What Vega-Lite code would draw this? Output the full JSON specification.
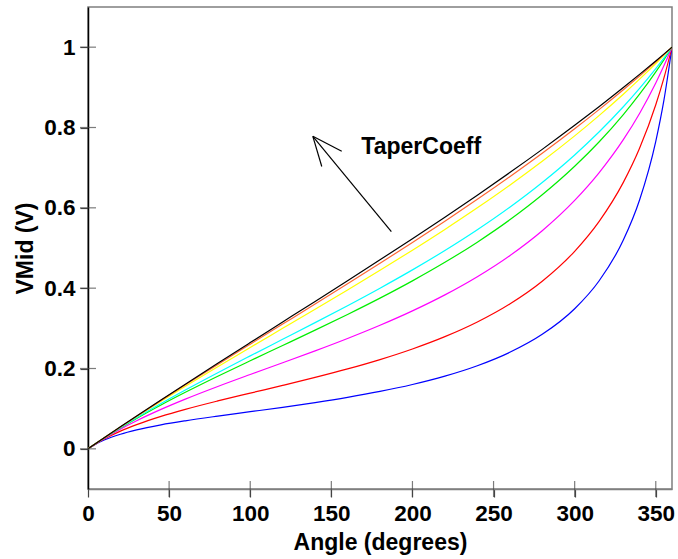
{
  "$schema": "https://vega.github.io/schema/vega-lite/v6.json",
  "width": 584,
  "height": 482,
  "autosize": "none",
  "padding": {"left": 88, "top": 7, "right": 6, "bottom": 70},
  "background": "white",
  "config": {
    "view": {"stroke": "#7f7f7f", "strokeWidth": 1.5},
    "font": "Liberation Sans",
    "axis": {
      "labelFont": "Liberation Sans",
      "labelFontWeight": "bold",
      "labelFontSize": 22.5,
      "labelColor": "#000000",
      "labelFlush": false,
      "labelBound": false,
      "titleFont": "Liberation Sans",
      "titleFontWeight": "bold",
      "titleFontSize": 23,
      "titleColor": "#000000",
      "grid": false,
      "tickColor": "#444444",
      "tickWidth": 1.2,
      "tickSize": 8
    }
  },
  "datasets": {
    "curves": [
      {"a": 0, "k025": 0, "k033": 0, "k05": 0, "k1": 0, "k133": 0, "k25": 0, "k5": 0, "k10": 0},
      {"a": 5, "k025": 0.013842, "k033": 0.013827, "k05": 0.013795, "k1": 0.013701, "k133": 0.01364, "k25": 0.013429, "k5": 0.012999, "k10": 0.012216},
      {"a": 10, "k025": 0.027592, "k033": 0.027533, "k05": 0.027408, "k1": 0.027048, "k133": 0.026815, "k25": 0.026021, "k5": 0.024473, "k10": 0.021872},
      {"a": 20, "k025": 0.054837, "k033": 0.054611, "k05": 0.054136, "k1": 0.052786, "k133": 0.051932, "k25": 0.049114, "k5": 0.04401, "k10": 0.036437},
      {"a": 30, "k025": 0.081772, "k033": 0.081283, "k05": 0.080268, "k1": 0.077419, "k133": 0.075647, "k25": 0.069971, "k5": 0.060302, "k10": 0.047244},
      {"a": 45, "k025": 0.121673, "k033": 0.120645, "k05": 0.118518, "k1": 0.112676, "k133": 0.109125, "k25": 0.09816, "k5": 0.080808, "k10": 0.059701},
      {"a": 60, "k025": 0.161074, "k033": 0.159363, "k05": 0.155844, "k1": 0.146341, "k133": 0.14068, "k25": 0.123711, "k5": 0.098361, "k10": 0.069767},
      {"a": 80, "k025": 0.213018, "k033": 0.210231, "k05": 0.204546, "k1": 0.189474, "k133": 0.180686, "k25": 0.155172, "k5": 0.119205, "k10": 0.081448},
      {"a": 100, "k025": 0.264512, "k033": 0.26053, "k05": 0.252454, "k1": 0.231362, "k133": 0.219271, "k25": 0.184995, "k5": 0.138675, "k10": 0.092402},
      {"a": 120, "k025": 0.315789, "k033": 0.310559, "k05": 0.3, "k1": 0.272727, "k133": 0.25729, "k25": 0.214286, "k5": 0.157895, "k10": 0.103448},
      {"a": 140, "k025": 0.367079, "k033": 0.360608, "k05": 0.347585, "k1": 0.314215, "k133": 0.29549, "k25": 0.24395, "k5": 0.177715, "k10": 0.115174},
      {"a": 160, "k025": 0.418604, "k033": 0.410958, "k05": 0.395604, "k1": 0.356436, "k133": 0.334572, "k25": 0.274809, "k5": 0.198895, "k10": 0.128114},
      {"a": 180, "k025": 0.470588, "k033": 0.461894, "k05": 0.444444, "k1": 0.4, "k133": 0.375235, "k25": 0.307692, "k5": 0.222222, "k10": 0.142857},
      {"a": 200, "k025": 0.523258, "k033": 0.513698, "k05": 0.494506, "k1": 0.445545, "k133": 0.418215, "k25": 0.343512, "k5": 0.248619, "k10": 0.160143},
      {"a": 220, "k025": 0.576839, "k033": 0.566669, "k05": 0.546207, "k1": 0.493766, "k133": 0.464342, "k25": 0.38335, "k5": 0.279267, "k10": 0.180988},
      {"a": 240, "k025": 0.631579, "k033": 0.621118, "k05": 0.6, "k1": 0.545455, "k133": 0.51458, "k25": 0.428571, "k5": 0.315789, "k10": 0.206897},
      {"a": 260, "k025": 0.68773, "k033": 0.677377, "k05": 0.65638, "k1": 0.601543, "k133": 0.570106, "k25": 0.480989, "k5": 0.360556, "k10": 0.240247},
      {"a": 280, "k025": 0.745562, "k033": 0.735809, "k05": 0.715909, "k1": 0.663158, "k133": 0.632403, "k25": 0.543103, "k5": 0.417218, "k10": 0.285068},
      {"a": 300, "k025": 0.805369, "k033": 0.796813, "k05": 0.779221, "k1": 0.731707, "k133": 0.703399, "k25": 0.618557, "k5": 0.491803, "k10": 0.348837},
      {"a": 315, "k025": 0.851711, "k033": 0.844518, "k05": 0.829629, "k1": 0.788732, "k133": 0.763877, "k25": 0.687117, "k5": 0.565657, "k10": 0.41791},
      {"a": 330, "k025": 0.899489, "k033": 0.894127, "k05": 0.882937, "k1": 0.851613, "k133": 0.832125, "k25": 0.769679, "k5": 0.663317, "k10": 0.519685},
      {"a": 340, "k025": 0.932216, "k033": 0.928377, "k05": 0.920294, "k1": 0.89736, "k133": 0.882832, "k25": 0.834921, "k5": 0.748166, "k10": 0.619433},
      {"a": 350, "k025": 0.965702, "k033": 0.963632, "k05": 0.959269, "k1": 0.946654, "k133": 0.938526, "k25": 0.910731, "k5": 0.856561, "k10": 0.765493},
      {"a": 355, "k025": 0.982746, "k033": 0.981673, "k05": 0.979405, "k1": 0.972789, "k133": 0.968469, "k25": 0.953464, "k5": 0.92291, "k10": 0.867322},
      {"a": 360, "k025": 1, "k033": 1, "k05": 1, "k1": 1, "k133": 1, "k25": 1, "k5": 1, "k10": 1}
    ],
    "arrow": [
      {"x": 187, "y": 0.541, "x2": 138.6, "y2": 0.778},
      {"x": 138.6, "y": 0.778, "x2": 156.4, "y2": 0.741},
      {"x": 138.6, "y": 0.778, "x2": 144.1, "y2": 0.703}
    ],
    "label": [
      {"x": 168.5, "y": 0.751, "text": "TaperCoeff"}
    ],
    "yticks": [{"v": 0}, {"v": 0.2}, {"v": 0.4}, {"v": 0.6}, {"v": 0.8}, {"v": 1}],
    "xticks": [{"v": 50}, {"v": 100}, {"v": 150}, {"v": 200}, {"v": 250}, {"v": 300}, {"v": 350}]
  },
  "layer": [
    {
      "data": {"name": "curves"},
      "transform": [
        {"fold": ["k10", "k5", "k25", "k133", "k1", "k05", "k033", "k025"], "as": ["curve", "V"]}
      ],
      "mark": {"type": "line", "strokeWidth": 1.2, "clip": true, "interpolate": "monotone"},
      "encoding": {
        "x": {
          "field": "a",
          "type": "quantitative",
          "scale": {"domain": [0, 360], "nice": false, "zero": false},
          "axis": {
            "title": "Angle (degrees)",
            "values": [0, 50, 100, 150, 200, 250, 300, 350],
            "domainColor": "#7f7f7f",
            "domainWidth": 1.5,
            "labelPadding": 5,
            "titlePadding": 7
          }
        },
        "y": {
          "field": "V",
          "type": "quantitative",
          "scale": {"domain": [-0.1, 1.1], "nice": false, "zero": false},
          "axis": {
            "title": "VMid (V)",
            "values": [0, 0.2, 0.4, 0.6, 0.8, 1],
            "format": "~g",
            "domainColor": "#000000",
            "domainWidth": 1.5,
            "labelPadding": 5,
            "titlePadding": 6
          }
        },
        "color": {
          "field": "curve",
          "type": "nominal",
          "scale": {
            "domain": ["k10", "k5", "k25", "k133", "k1", "k05", "k033", "k025"],
            "range": ["#0000ff", "#ff0000", "#ff00ff", "#00ee00", "#00ffff", "#ffff00", "#ff6633", "#000000"]
          },
          "legend": null
        },
        "order": {"field": "a", "type": "quantitative"}
      }
    },
    {
      "data": {"name": "yticks"},
      "mark": {"type": "tick", "orient": "horizontal", "size": 16, "thickness": 1.2, "color": "#444444"},
      "encoding": {
        "x": {"datum": 0},
        "y": {"field": "v", "type": "quantitative"}
      }
    },
    {
      "data": {"name": "xticks"},
      "mark": {"type": "tick", "orient": "vertical", "size": 16, "thickness": 1.2, "color": "#444444"},
      "encoding": {
        "x": {"field": "v", "type": "quantitative"},
        "y": {"datum": -0.1}
      }
    },
    {
      "data": {"name": "arrow"},
      "mark": {"type": "rule", "color": "#000000", "strokeWidth": 1.2},
      "encoding": {
        "x": {"field": "x", "type": "quantitative"},
        "y": {"field": "y", "type": "quantitative"},
        "x2": {"field": "x2"},
        "y2": {"field": "y2"}
      }
    },
    {
      "data": {"name": "label"},
      "mark": {"type": "text", "align": "left", "baseline": "middle", "font": "Liberation Sans", "fontWeight": "bold", "fontSize": 23, "color": "#000000"},
      "encoding": {
        "x": {"field": "x", "type": "quantitative"},
        "y": {"field": "y", "type": "quantitative"},
        "text": {"field": "text"}
      }
    },
    {
      "mark": {"type": "rule", "color": "#000000", "strokeWidth": 1.5},
      "encoding": {
        "x": {"datum": 360}
      }
    }
  ]
}
